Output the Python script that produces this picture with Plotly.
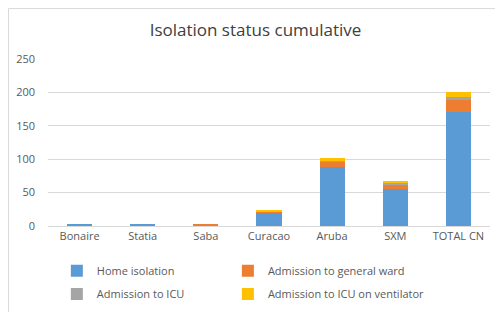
import plotly.graph_objects as go

categories = ["Bonaire", "Statia", "Saba", "Curacao", "Aruba", "SXM", "TOTAL CN"]
home_isolation = [2, 2, 0, 20, 89, 55, 170]
general_ward = [0, 0, 2, 1, 8, 7, 19]
icu = [0, 0, 0, 0, 1, 3, 4]
icu_ventilator = [0, 0, 0, 2, 4, 3, 8]
y_ticks = [0, 50, 100, 150, 200, 250]

series = [
    ("Home isolation", home_isolation, "#5B9BD5", "legend"),
    ("Admission to general ward", general_ward, "#ED7D31", "legend2"),
    ("Admission to ICU", icu, "#A5A5A5", "legend3"),
    ("Admission to ICU on ventilator", icu_ventilator, "#FFC000", "legend4"),
]

fig = go.Figure()
for name, vals, col, leg in series:
    fig.add_trace(go.Bar(x=categories, y=vals, name=name, marker_color=col,
                         marker_line_width=0, legend=leg))

font_fam = "Open Sans, Liberation Sans, sans-serif"
leg_common = dict(orientation="h", xanchor="left", yref="container",
                  yanchor="middle", font=dict(size=11, color="#595959"),
                  itemclick=False, bgcolor="rgba(0,0,0,0)")
fig.update_layout(
    barmode="stack",
    bargap=0.6,
    width=495, height=304,
    margin=dict(l=40, r=13, t=51, b=86, autoexpand=False),
    paper_bgcolor="white", plot_bgcolor="white",
    font=dict(family=font_fam, color="#595959", size=11),
    title=dict(text="Isolation status cumulative", x=0.5, xanchor="center",
               y=0.928, yanchor="middle", font=dict(size=17, color="#404040")),
    xaxis=dict(showgrid=False, showline=True, linecolor="#d9d9d9",
               ticks="", tickfont=dict(size=11, color="#595959")),
    yaxis=dict(range=[0, 250], tickvals=y_ticks, showgrid=True,
               gridcolor="#d9d9d9", zeroline=False, showline=False,
               ticks="", ticklabelstandoff=12,
               tickfont=dict(size=11, color="#595959")),
    legend=dict(x=0.02, y=0.136, **leg_common),
    legend2=dict(x=0.407, y=0.136, **leg_common),
    legend3=dict(x=0.02, y=0.059, **leg_common),
    legend4=dict(x=0.407, y=0.059, **leg_common),
    showlegend=True,
    shapes=[dict(type="rect", xref="paper", yref="paper",
                 x0=-0.0894, x1=1.0226, y0=-0.6, y1=1.302,
                 line=dict(color="#d9d9d9", width=1), layer="below")],
)
fig.write_html("out.html")
